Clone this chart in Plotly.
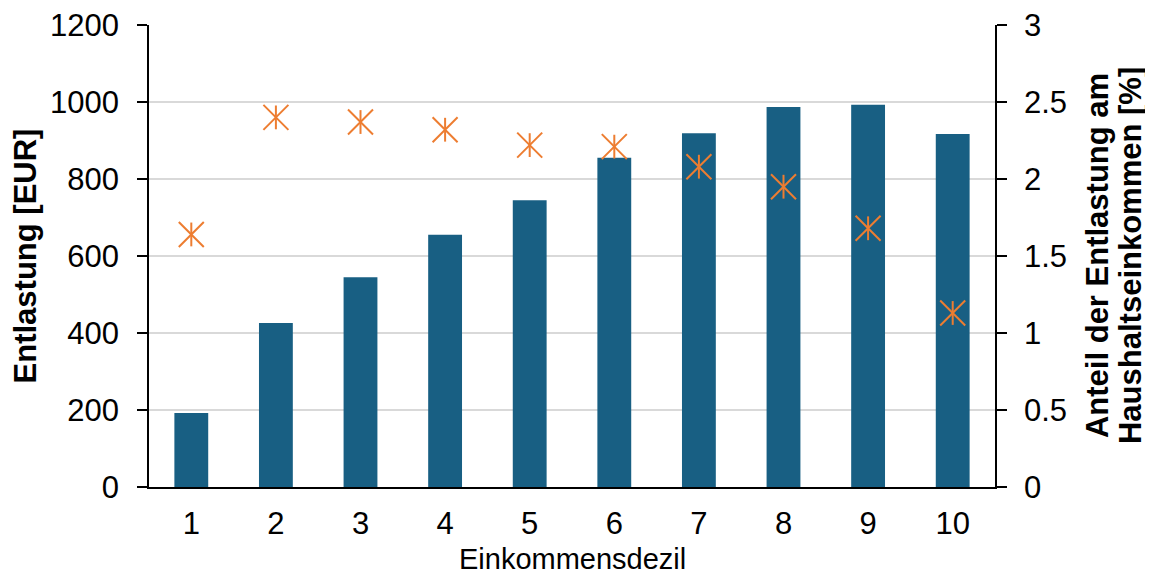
import plotly.graph_objects as go

deciles = [1, 2, 3, 4, 5, 6, 7, 8, 9, 10]
entlastung_eur = [192, 426, 545, 655, 745, 855, 919, 987, 993, 917]
anteil_pct = [1.64, 2.40, 2.37, 2.32, 2.22, 2.21, 2.08, 1.95, 1.68, 1.13]
left_ticks = [0, 200, 400, 600, 800, 1000, 1200]
right_ticks = [0, 0.5, 1, 1.5, 2, 2.5, 3]
right_tick_text = ["0", "0.5", "1", "1.5", "2", "2.5", "3"]
x_title = "Einkommensdezil"
y_title = "Entlastung [EUR]"
y2_title_lines = ["Anteil der Entlastung am", "Haushaltseinkommen [%]"]

BAR = "#185F83"
ORANGE = "#ED7D31"
FONT = "Liberation Sans, Arial, sans-serif"
FS = 31

fig = go.Figure()
fig.add_trace(go.Bar(x=deciles, y=entlastung_eur, marker=dict(color=BAR, line=dict(width=0)),
                     width=0.40, yaxis="y", showlegend=False))
fig.add_trace(go.Scatter(x=deciles, y=anteil_pct, mode="markers", yaxis="y2", showlegend=False,
                         marker=dict(symbol="x-thin-open", size=25, color=ORANGE,
                                     line=dict(color=ORANGE, width=2))))
fig.add_trace(go.Scatter(x=deciles, y=anteil_pct, mode="markers", yaxis="y2", showlegend=False,
                         marker=dict(symbol="line-ns-open", size=17, color=ORANGE,
                                     line=dict(color=ORANGE, width=2))))

annotations = [
    dict(text=x_title, xref="paper", yref="paper", x=0.5, y=-0.155,
         xanchor="center", yanchor="middle", showarrow=False, font=dict(size=29)),
]
for xpos, line in zip([1.1206, 1.1596], y2_title_lines):
    annotations.append(dict(text="<b>" + line + "</b>", xref="paper", yref="paper",
                            x=xpos, y=0.5, xanchor="center", yanchor="middle",
                            textangle=-90, showarrow=False, font=dict(size=FS)))

fig.update_layout(
    template="none",
    width=1145, height=565,
    margin=dict(l=141, r=158, t=17, b=86, autoexpand=False),
    plot_bgcolor="white", paper_bgcolor="white",
    font=dict(family=FONT, size=FS, color="black"),
    annotations=annotations,
    xaxis=dict(range=[0.5, 10.5], tickmode="array", tickvals=deciles, automargin=False,
               ticks="", showgrid=False, showline=True, linecolor="black", linewidth=1.5,
               zeroline=False,
               tickfont=dict(size=FS), ticklabelstandoff=8, ticklabeloverflow="allow"),
    yaxis=dict(range=[0, 1200], tickmode="array", tickvals=left_ticks, automargin=False,
               ticks="outside", ticklen=10, tickcolor="black", tickwidth=1.5,
               showline=True, linecolor="black", linewidth=1.5,
               showgrid=True, gridcolor="#D9D9D9", gridwidth=1.5,
               zeroline=False, tickfont=dict(size=FS), ticklabelstandoff=12,
               ticklabeloverflow="allow",
               title=dict(text="<b>" + y_title + "</b>", font=dict(size=FS), standoff=14)),
    yaxis2=dict(range=[0, 3], overlaying="y", side="right", tickmode="array", automargin=False,
                tickvals=right_ticks, ticktext=right_tick_text,
                ticks="outside", ticklen=10, tickcolor="black", tickwidth=1.5,
                showline=True, linecolor="black", linewidth=1.5, showgrid=False,
                zeroline=False, tickfont=dict(size=FS), ticklabelstandoff=11,
                ticklabeloverflow="allow"),
)

fig.write_html("out.html")
